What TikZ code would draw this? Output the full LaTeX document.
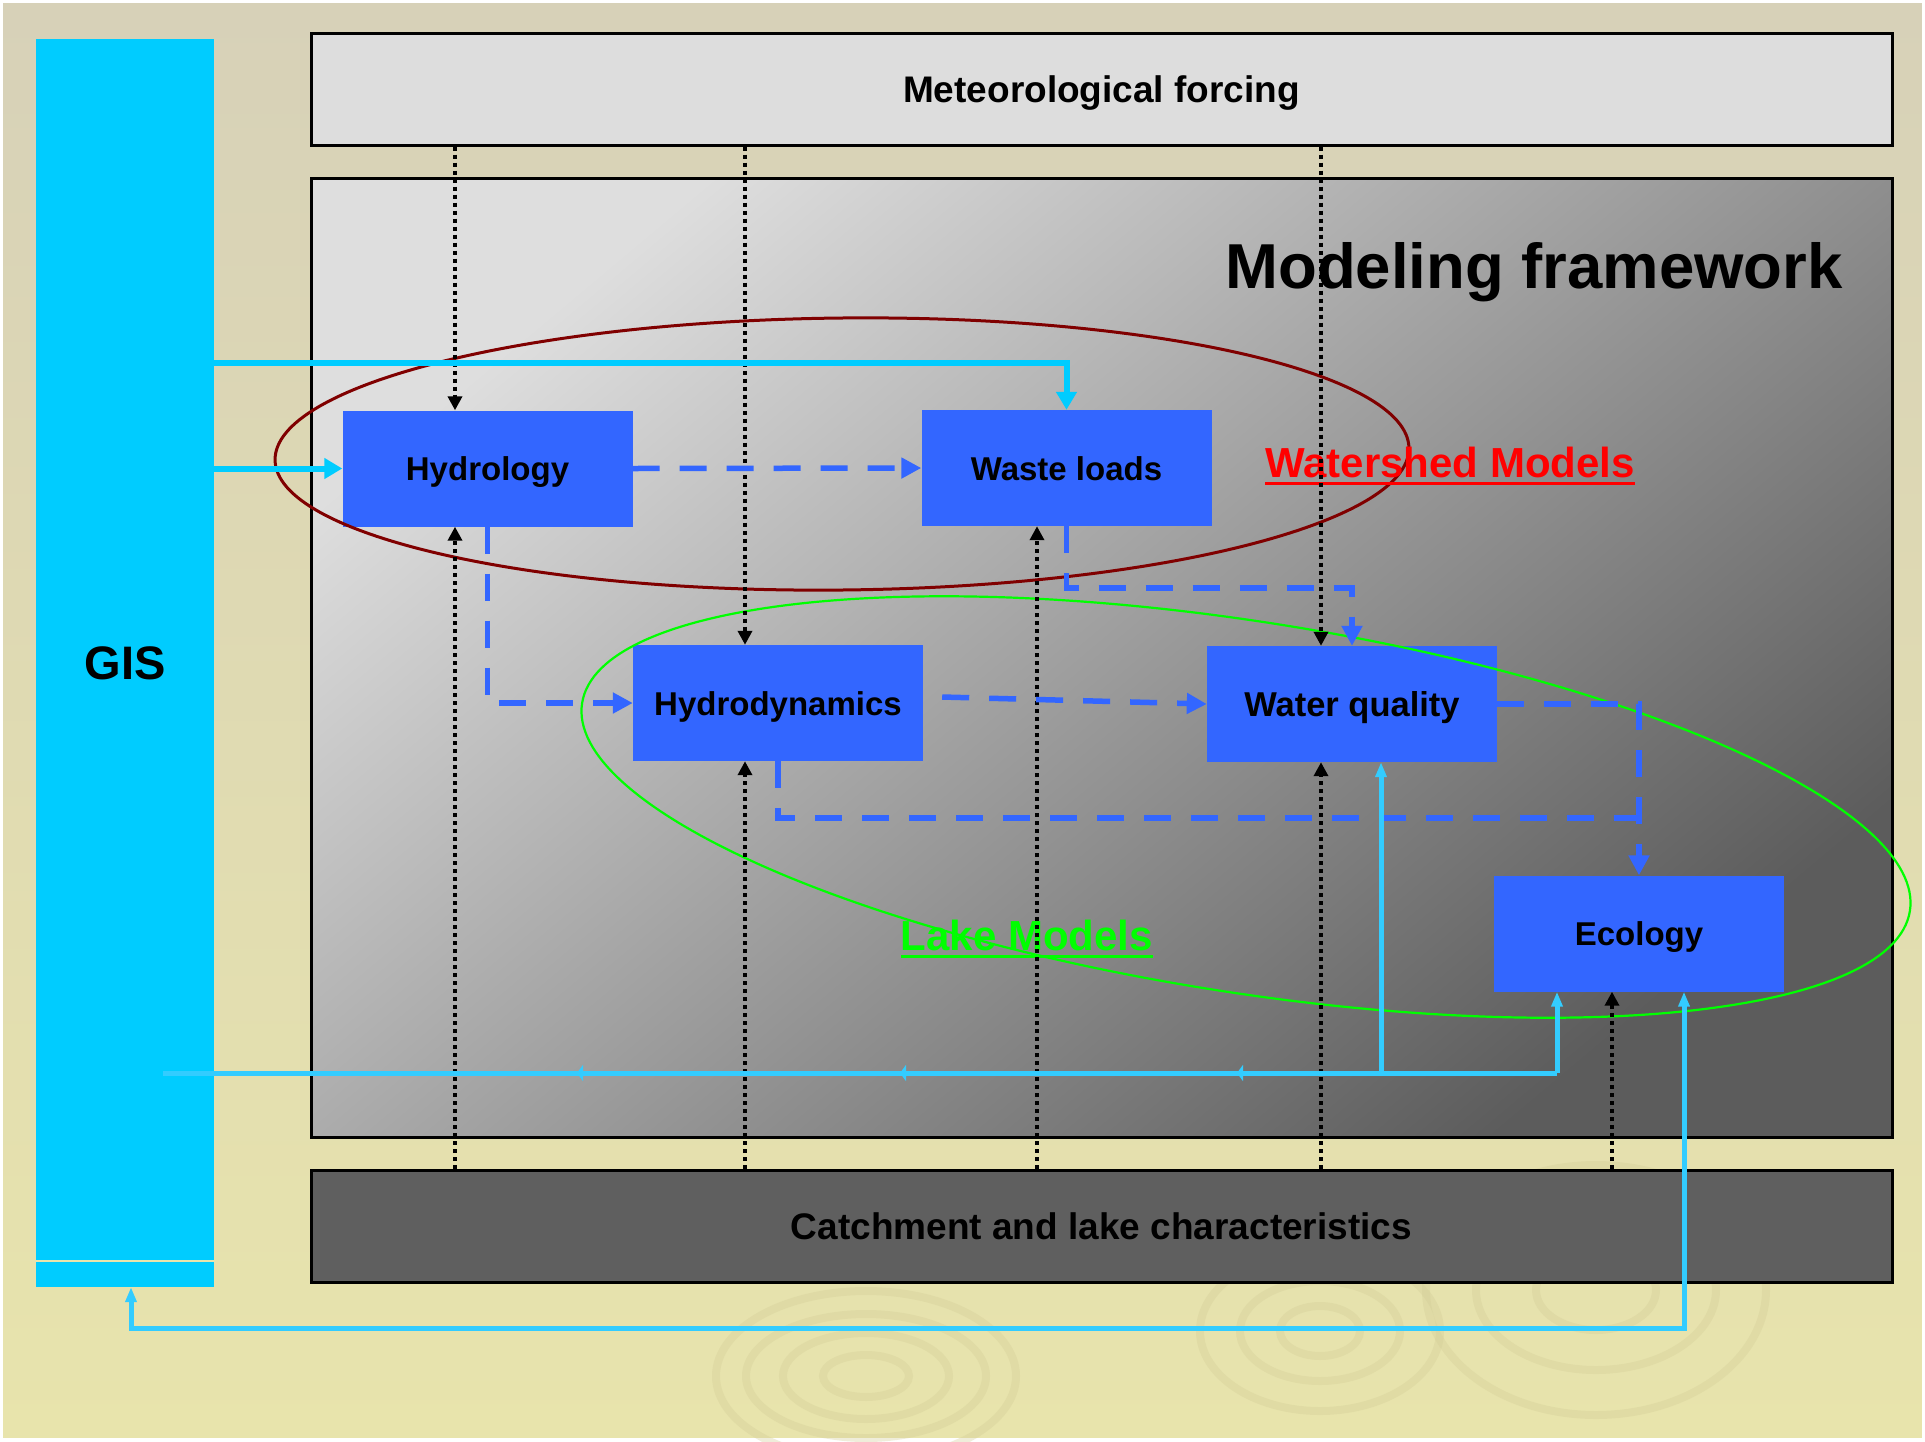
\documentclass[tikz,border=0pt]{standalone}
\usepackage{fontspec}
\setmainfont{Liberation Sans}
\usetikzlibrary{arrows.meta,calc,decorations.markings}
\definecolor{bgtop}{HTML}{D7D1B8}
\definecolor{bgbot}{HTML}{E8E4AC}
\definecolor{gisc}{HTML}{00CCFF}
\definecolor{boxc}{HTML}{3366FF}
\definecolor{lcyan}{HTML}{33CCFF}
\definecolor{wsred}{HTML}{800000}
\definecolor{lakeg}{HTML}{00FF00}
\definecolor{ripple}{HTML}{D3CD97}
\definecolor{metgray}{HTML}{DDDDDD}
\definecolor{mflight}{HTML}{DEDEDE}
\definecolor{mfdark}{HTML}{5C5C5C}
\definecolor{catchc}{HTML}{5F5F5F}
\begin{document}
\begin{tikzpicture}[x=1pt,y=-1pt,
  model/.style={fill=boxc, minimum width=290pt, minimum height=116pt, inner sep=0pt,
    text height=24pt, text depth=0pt, font=\fontsize{33}{36}\selectfont\bfseries},
  wide/.style={draw=black, line width=3pt, minimum width=1581pt, inner sep=0pt},
  metline/.style={black, line width=4pt, dash pattern=on 4pt off 4pt,
    -{Triangle[length=14pt,width=14pt]}},
  flow/.style={boxc, line width=5.5pt, dash pattern=on 27pt off 20pt,
    -{Triangle[length=20pt,width=20pt]}},
  gisflow/.style={gisc, line width=6pt, -{Triangle[length=18pt,width=20pt]}},
  back/.style={lcyan, line width=5pt},
  ripplering/.style={ripple, line width=8pt, opacity=0.35},
  label/.style={inner sep=0pt, font=\fontsize{42}{45}\selectfont\bfseries, anchor=base}
]
\useasboundingbox (0,0) rectangle (1925,1441);
% background
\shade[top color=bgtop, bottom color=bgbot] (0,0) rectangle (1925,1441);
\draw[white, line width=6pt] (0,0) rectangle (1925,1441);
% ripples
\foreach \rx/\ry in {43/21, 83/43, 120/62, 150/85}
  \draw[ripplering] (866,1376) ellipse [x radius=\rx, y radius=\ry];
\foreach \rx/\ry in {40/25, 80/50, 120/80}
  \draw[ripplering] (1320,1331) ellipse [x radius=\rx, y radius=\ry];
\foreach \rx/\ry in {60/40, 120/80, 170/125}
  \draw[ripplering] (1596,1290) ellipse [x radius=\rx, y radius=\ry];

% GIS bar
\node[fill=gisc, minimum width=178pt, minimum height=1248pt, inner sep=0pt,
  font=\fontsize{47}{50}\selectfont\bfseries] (gis) at (125,663) {GIS};
\draw[bgbot, line width=1.5pt] (36,1261) -- (214,1261);

% framework boxes
\node[wide, fill=metgray, minimum height=112pt, text height=26pt, text depth=0pt,
  font=\fontsize{37}{40}\selectfont\bfseries]
  (met) at (1101.5,89) {Meteorological forcing};
\node[wide, minimum height=959pt, shade, top color=mflight, bottom color=mfdark, shading angle=40]
  (mf) at (1101.5,657.5) {};
\node[anchor=east, inner sep=0pt, text height=46pt, text depth=0pt,
  font=\fontsize{63.5}{68}\selectfont\bfseries]
  (mftitle) at (1843,265) {Modeling framework};
\node[wide, fill=catchc, minimum height=112pt, text height=26pt, text depth=0pt,
  font=\fontsize{37}{40}\selectfont\bfseries]
  (catch) at (1101.5,1226) {Catchment and lake characteristics};

% model boxes
\node[model] (hyd) at (487.5,468.5) {Hydrology};
\node[model] (wl)  at (1066.5,468)  {Waste loads};
\node[model] (hd)  at (778,703)     {Hydrodynamics};
\node[model, font=\fontsize{34.5}{37}\selectfont\bfseries] (wq)  at (1352,704) {Water quality};
\node[model] (eco) at (1639,933.5)  {Ecology};

% ellipses
\draw[wsred, line width=3pt, rotate around={0.6:(842,454)}]
  (842,454) ellipse [x radius=567, y radius=136];
\draw[lakeg, line width=2.2pt, rotate around={-8.9:(1246,807)}]
  (1246,807) ellipse [x radius=672, y radius=185.5];

% labels
\node[label, text=red] (ws) at (1450,477) {Watershed Models};
\draw[red, line width=3pt] ([yshift=-6pt]ws.south west) -- ([yshift=-6pt]ws.south east);
\node[label, text=lakeg] (lake) at (1027,950) {Lake Models};
\draw[lakeg, line width=3pt] ([yshift=-6pt]lake.south west) -- ([yshift=-6pt]lake.south east);

% dotted forcing lines
\coordinate (d1) at (455,0);
\coordinate (d2) at (745,0);
\coordinate (d3) at (1037,0);
\coordinate (d4) at (1321,0);
\coordinate (d5) at (1612,0);
\draw[metline] (met.south -| d1) -- (hyd.north -| d1);
\draw[metline] (met.south -| d2) -- (hd.north -| d2);
\draw[metline] (met.south -| d4) -- (wq.north -| d4);
\draw[metline] (catch.north -| d1) -- (hyd.south -| d1);
\draw[metline] (catch.north -| d2) -- (hd.south -| d2);
\draw[metline] (catch.north -| d3) -- (wl.south -| d3);
\draw[metline] (catch.north -| d4) -- (wq.south -| d4);
\draw[metline] (catch.north -| d5) -- (eco.south -| d5);

% dashed model flows
\coordinate (j2) at (1639,818);
\draw[flow] (hyd.east) -- (wl.west);
\draw[flow] (hyd.south) |- (hd.west);
\draw[flow] ($(hd.east)+(19,-6)$) -- (wq.west);
\draw[flow] (wl.south) -- ++(0,62) -| (wq.north);
\draw[flow] (wq.east) -| (eco.north);
\draw[flow, -] (hd.south) |- (j2);

% GIS inputs
\coordinate (g1) at (214,363);
\draw[gisflow] (gis.east |- g1) -| (wl.north);
\draw[gisflow] (gis.east |- hyd.west) -- (hyd.west);

% return lines
\coordinate (gisin) at (163,1073);
\coordinate (j1) at (1557,1073);
\coordinate (j3) at (1381,1073);
\draw[back, postaction={decorate}, decoration={markings,
   mark=at position 320pt with {\arrow{Triangle[length=6pt,width=16pt]}},
   mark=at position 657pt with {\arrow{Triangle[length=6pt,width=16pt]}},
   mark=at position 980pt with {\arrow{Triangle[length=6pt,width=16pt]}}}]
  (j1) -- (gisin);
\draw[back, -{Triangle[length=15pt,width=11pt]}] (j1) -- (eco.south -| j1);
\draw[back, -{Triangle[length=15pt,width=11pt]}] (j3) -- (wq.south -| j3);
\coordinate (f1) at (131,1328);
\coordinate (f2) at (1684,1328);
\draw[back, {Triangle[length=15pt,width=11pt]}-{Triangle[length=15pt,width=11pt]}]
  (gis.south -| f1) -- (f1) -- (f2) -- (eco.south -| f2);
\end{tikzpicture}
\end{document}
